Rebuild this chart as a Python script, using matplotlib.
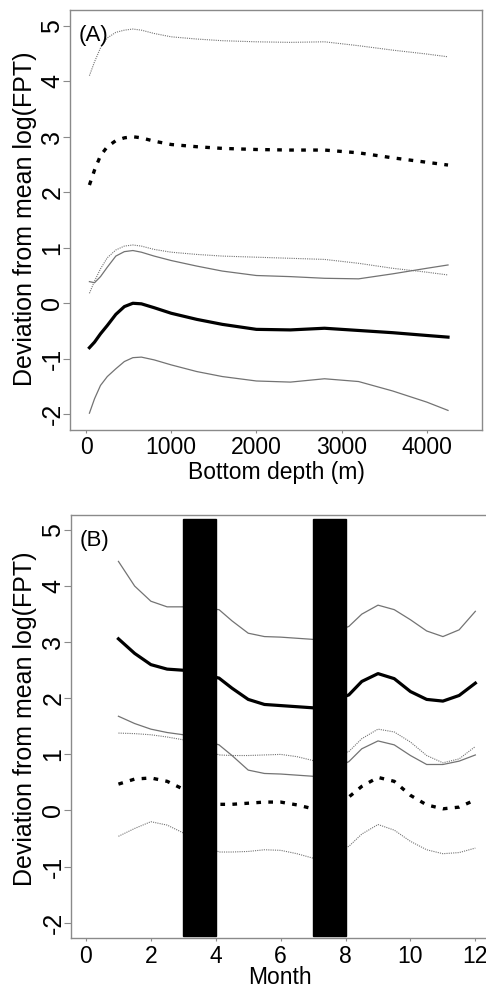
import matplotlib

matplotlib.use("Agg")
import matplotlib.pyplot as plt

plt.rcParams["font.family"] = ["Liberation Sans", "DejaVu Sans"]

# panel A: bottom depth (m)
depth = [40, 100, 170, 250, 350, 450, 550, 650, 800, 1000, 1300, 1600,
         2000, 2400, 2800, 3200, 3600, 4000, 4250]
a_dot_hi = [4.10, 4.35, 4.60, 4.78, 4.88, 4.92, 4.94, 4.92, 4.86, 4.80, 4.76,
            4.73, 4.71, 4.70, 4.71, 4.64, 4.56, 4.49, 4.44]
a_dot_mean = [2.13, 2.40, 2.66, 2.82, 2.93, 2.98, 3.00, 2.98, 2.92, 2.86, 2.82,
              2.79, 2.77, 2.76, 2.76, 2.71, 2.62, 2.54, 2.49]
a_dot_lo = [0.18, 0.40, 0.62, 0.82, 0.96, 1.03, 1.05, 1.03, 0.97, 0.92, 0.88,
            0.85, 0.83, 0.81, 0.79, 0.72, 0.63, 0.56, 0.51]
a_hi = [0.39, 0.37, 0.48, 0.65, 0.85, 0.93, 0.95, 0.92, 0.85, 0.77, 0.67,
        0.58, 0.50, 0.48, 0.45, 0.44, 0.53, 0.63, 0.69]
a_mean = [-0.80, -0.70, -0.55, -0.40, -0.20, -0.06, 0.00, -0.01, -0.08, -0.18,
          -0.29, -0.38, -0.47, -0.48, -0.45, -0.49, -0.53, -0.58, -0.61]
a_lo = [-1.98, -1.72, -1.48, -1.32, -1.18, -1.05, -0.98, -0.97, -1.02, -1.11,
        -1.23, -1.32, -1.40, -1.42, -1.36, -1.41, -1.58, -1.78, -1.93]

# panel B: month
month = [1, 1.5, 2, 2.5, 3, 4.1, 4.5, 5, 5.5, 6, 6.5, 7, 8.1, 8.5, 9, 9.5,
         10, 10.5, 11, 11.5, 12]
b_hi = [4.44, 4.00, 3.73, 3.63, 3.63, 3.58, 3.38, 3.16, 3.10, 3.09, 3.07,
        3.05, 3.28, 3.50, 3.66, 3.58, 3.40, 3.20, 3.10, 3.22, 3.55]
b_mean = [3.06, 2.80, 2.60, 2.52, 2.50, 2.36, 2.18, 1.98, 1.89, 1.87, 1.85,
          1.83, 2.06, 2.30, 2.44, 2.35, 2.12, 1.98, 1.95, 2.05, 2.27]
b_lo = [1.68, 1.55, 1.45, 1.39, 1.35, 1.17, 0.98, 0.72, 0.66, 0.65, 0.63,
        0.61, 0.87, 1.10, 1.24, 1.17, 0.98, 0.82, 0.82, 0.88, 0.99]
b_dot_hi = [1.38, 1.37, 1.35, 1.31, 1.26, 0.99, 0.98, 0.98, 0.99, 1.00, 0.96,
            0.89, 1.05, 1.28, 1.45, 1.40, 1.22, 0.98, 0.85, 0.92, 1.14]
b_dot_mean = [0.47, 0.56, 0.58, 0.52, 0.38, 0.11, 0.11, 0.13, 0.15, 0.15, 0.10,
              0.03, 0.24, 0.43, 0.59, 0.52, 0.27, 0.10, 0.03, 0.06, 0.19]
b_dot_lo = [-0.46, -0.32, -0.20, -0.26, -0.40, -0.74, -0.74, -0.73, -0.70,
            -0.71, -0.77, -0.85, -0.64, -0.42, -0.25, -0.35, -0.55, -0.70,
            -0.77, -0.75, -0.67]

# months with no data (black bars)
gap_start = [3, 7]
gap_width = [1, 1]
gap_bottom = -2.24
gap_top = 5.19

GREY = "#737373"
SPINE = "#8a8a8a"
FS_H = 16.5  # horizontal text
FS_V = 18  # vertical text
YLAB = "Deviation from mean log(FPT)"


def style_axes(ax):
    for s in ax.spines.values():
        s.set_color(SPINE)
        s.set_linewidth(1.0)
    ax.tick_params(axis="y", length=5, width=0.8, color=SPINE, labelsize=FS_V,
                   labelrotation=90, pad=-1)
    ax.tick_params(axis="x", length=2.5, width=0.8, color=SPINE, labelsize=FS_H,
                   pad=2)
    ax.set_yticks([-2, -1, 0, 1, 2, 3, 4, 5])
    ax.set_yticklabels(["-2", "-1", "0", "1", "2", "3", "4", "5"], va="center")


def draw_curves(ax, x, hi, mean, lo, dhi, dmean, dlo):
    ax.plot(x, dhi, color=GREY, lw=0.8, ls=(0, (1, 1)))
    ax.plot(x, dlo, color=GREY, lw=0.8, ls=(0, (1, 1)))
    ax.plot(x, dmean, color="black", lw=2.4, ls=(0, (1.4, 2.2)),
            dash_capstyle="butt")
    ax.plot(x, hi, color=GREY, lw=0.9)
    ax.plot(x, lo, color=GREY, lw=0.9)
    ax.plot(x, mean, color="black", lw=2.3)


fig = plt.figure(figsize=(4.86, 9.88), dpi=100)

# (A)
ax1 = fig.add_axes([70 / 486, 1 - 430 / 988, 412 / 486, 420 / 988])
draw_curves(ax1, depth, a_hi, a_mean, a_lo, a_dot_hi, a_dot_mean, a_dot_lo)
ax1.set_xlim(-188, 4649)
ax1.set_ylim(-2.283, 5.283)
ax1.set_xticks([0, 1000, 2000, 3000, 4000])
style_axes(ax1)
ax1.set_xlabel("Bottom depth (m)", fontsize=FS_H, labelpad=1)
ax1.text(0.02, 0.965, "(A)", transform=ax1.transAxes, fontsize=16,
         ha="left", va="top")
fig.text(25 / 486, 1 - 219 / 988, YLAB, rotation=90, fontsize=FS_V,
         ha="center", va="center")

# (B)
ax2 = fig.add_axes([71 / 486, 1 - 938.3 / 988, 417 / 486, 423.3 / 988])
draw_curves(ax2, month, b_hi, b_mean, b_lo, b_dot_hi, b_dot_mean, b_dot_lo)
ax2.bar(gap_start, gap_top - gap_bottom, width=gap_width, bottom=gap_bottom,
        align="edge", color="black", edgecolor="black", lw=1, zorder=5)
ax2.set_xlim(-0.462, 12.39)
ax2.set_ylim(-2.278, 5.267)
ax2.set_xticks([0, 2, 4, 6, 8, 10, 12])
style_axes(ax2)
ax2.spines["right"].set_visible(False)
ax2.set_xlabel("Month", fontsize=FS_H, labelpad=-1)
ax2.text(0.02, 0.965, "(B)", transform=ax2.transAxes, fontsize=16,
         ha="left", va="top")
fig.text(25 / 486, 1 - 719 / 988, YLAB, rotation=90, fontsize=FS_V,
         ha="center", va="center")

fig.savefig("out.png", dpi=100)
